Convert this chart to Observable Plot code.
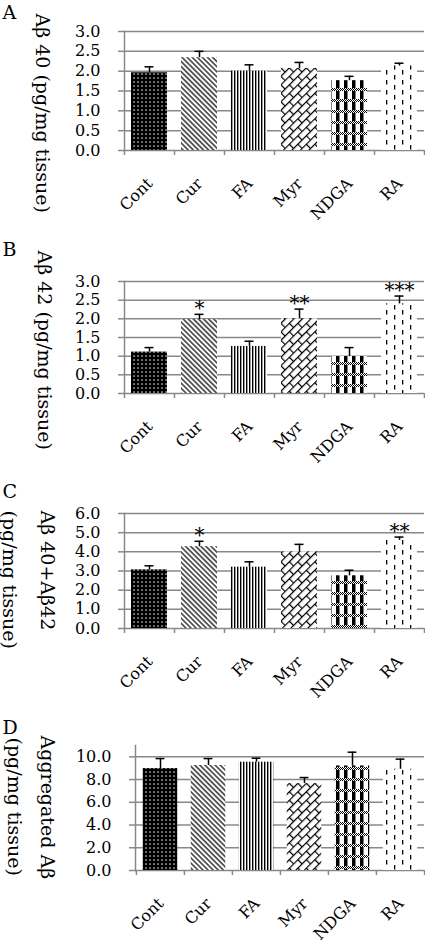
<!DOCTYPE html>
<html><head><meta charset="utf-8">
<script src="https://cdn.jsdelivr.net/npm/d3@7"></script>
<script src="https://cdn.jsdelivr.net/npm/@observablehq/plot@0.6"></script>
<style>
html,body{margin:0;padding:0;background:#fff;}
#chart svg{display:block;overflow:visible;}
</style></head><body><div id="chart"></div>
<script>
// ---- data ----
const categories = ["Cont", "Cur", "FA", "Myr", "NDGA", "RA"];

const ab40Mean = [1.96, 2.34, 2.00, 2.07, 1.76, 2.13];
const ab40Err  = [0.15, 0.16, 0.16, 0.15, 0.11, 0.07];

const ab42Mean = [1.11, 1.98, 1.26, 2.00, 0.99, 2.40];
const ab42Err  = [0.12, 0.14, 0.14, 0.26, 0.24, 0.21];
const ab42Stars = ["", "*", "", "**", "", "***"];

const sumMean = [3.06, 4.27, 3.20, 4.00, 2.75, 4.60];
const sumErr  = [0.21, 0.28, 0.28, 0.39, 0.29, 0.17];
const sumStars = ["", "*", "", "", "", "**"];

const aggMean = [8.97, 9.24, 9.53, 7.65, 9.20, 8.91];
const aggErr  = [0.88, 0.61, 0.35, 0.53, 1.21, 0.89];

const ticksA = [0, 0.5, 1.0, 1.5, 2.0, 2.5, 3.0];
const ticksB = [0, 0.5, 1.0, 1.5, 2.0, 2.5, 3.0];
const ticksC = [0, 1, 2, 3, 4, 5, 6];
const ticksD = [0, 2, 4, 6, 8, 10];

const titleA = ["Aβ 40 (pg/mg tissue)"];
const titleB = ["Aβ 42 (pg/mg tissue)"];
const titleC = ["Aβ 40+Aβ42", "(pg/mg tissue)"];
const titleD = ["Aggregated Aβ", "(pg/mg tissue)"];

// ---- style ----
const GRID = "#888888";
const FONT = "DejaVu Serif";
const fmt = d3.format(".1f");

function patternDefs(s) {
  return () => {
    const defs = d3.create("svg:defs");
    const pat = (id, w, h, tr) => {
      const p = defs.append("pattern").attr("id", id + s)
        .attr("patternUnits", "userSpaceOnUse").attr("width", w).attr("height", h);
      if (tr) p.attr("patternTransform", tr);
      return p;
    };
    const rect = (p, x, y, w, h, f) => p.append("rect").attr("x", x).attr("y", y)
      .attr("width", w).attr("height", h).attr("fill", f);
    // Cont: black with white dots
    let p = pat("Cont", 4, 4);
    rect(p, 0, 0, 4, 4, "#000"); rect(p, 1.4, 1.4, 1.3, 1.3, "#fff");
    // Cur: diagonal lines
    p = pat("Cur", 3.6, 3.6, "rotate(-45)");
    rect(p, 0, 0, 3.6, 3.6, "#fff"); rect(p, 1.2, 0, 1.2, 3.6, "#000");
    // FA: vertical lines
    p = pat("FA", 3, 3);
    rect(p, 0, 0, 3, 3, "#fff"); rect(p, 0, 0, 1.4, 3, "#000");
    // Myr: diagonal brick
    p = pat("Myr", 12, 12, "rotate(-45)");
    rect(p, 0, 0, 12, 12, "#fff");
    rect(p, 0, 0, 12, 1.2, "#000"); rect(p, 0, 6, 12, 1.2, "#000");
    rect(p, 0, 0, 1.2, 6, "#000"); rect(p, 6, 6, 1.2, 6, "#000");
    // NDGA: black columns with checker bands
    p = pat("NDGA", 8, 11);
    rect(p, 0, 0, 8, 11, "#fff"); rect(p, 0, 0, 3.5, 11, "#000");
    for (let y = 0; y < 3; y++) for (let x = 0; x < 8; x++)
      rect(p, x, y, 1, 1, (x + y) % 2 === 0 ? "#000" : "#fff");
    // RA: dashed vertical lines
    p = pat("RA", 16, 10);
    rect(p, 0, 0, 16, 10, "#fff");
    rect(p, 2, 0, 1.3, 4.5, "#000"); rect(p, 10, 5, 1.3, 4.5, "#000");
    return defs.node();
  };
}

function panel(cfg) {
  const {key, letter, titleLines, titlePos, values, errors, stars, yMax, yTicks,
         height, mt, mb, ml, letterBase} = cfg;
  const width = 425, mr = 1;
  const step = (width - ml - mr) / categories.length;
  const rows = categories.map((c, i) => ({
    cat: c, value: values[i], se: errors[i], star: stars ? stars[i] : ""
  }));
  const inset = step * 0.14;
  const capInset = (step - 9) / 2;
  const marks = [
    patternDefs(key),
    Plot.gridY({ticks: yTicks, stroke: GRID, strokeOpacity: 1, strokeWidth: 1.5}),
    Plot.barY(rows, {x: "cat", y: "value", fill: "cat", insetLeft: inset, insetRight: inset}),
    Plot.ruleX(rows, {x: "cat", y1: "value", y2: d => d.value + d.se, stroke: "#000", strokeWidth: 1.5}),
    Plot.tickY(rows, {x: "cat", y: d => d.value + d.se, stroke: "#000", strokeWidth: 1.5,
      insetLeft: capInset, insetRight: capInset}),
    Plot.text(rows.filter(d => d.star), {x: "cat", y: d => d.value + d.se, text: "star",
      lineAnchor: "bottom", fontSize: 20, dy: 1, fontFamily: FONT}),
    Plot.frame({anchor: "left", stroke: GRID, strokeWidth: 1.5}),
    // y ticks (marks only) and tick labels
    Plot.axisY({ticks: yTicks, tickSize: 6, tickFormat: () => "", stroke: GRID, strokeWidth: 1.5, label: null}),
    Plot.text(yTicks, {y: d => d, text: d => fmt(d), frameAnchor: "left", textAnchor: "end",
      lineAnchor: "middle", dx: -24, fontSize: 16, fontFamily: FONT, fill: "#000"}),
    // x boundary ticks
    Plot.axisX({tickSize: 5, tickFormat: () => "", dx: -step / 2, stroke: GRID, strokeWidth: 1.5, label: null}),
    Plot.axisX({ticks: [categories[categories.length - 1]], tickSize: 5, tickFormat: () => "",
      dx: step / 2, stroke: GRID, strokeWidth: 1.5, label: null}),
    // category labels rotated
    Plot.text(categories, {x: d => d, text: d => d, frameAnchor: "bottom", rotate: -45,
      textAnchor: "end", lineAnchor: "bottom", dx: 4, dy: 34, fontSize: 16, fontFamily: FONT, fill: "#000"}),
    Plot.text([letter], {frameAnchor: "top-left", textAnchor: "start", lineAnchor: "bottom",
      dx: 2 - ml, dy: letterBase - mt, fontSize: 19, fontFamily: FONT})
  ];
  titleLines.forEach((t, i) => {
    marks.push(Plot.text([t], {frameAnchor: "top-left", rotate: 90, textAnchor: "start",
      lineAnchor: "middle", dx: titlePos[i][0] - ml, dy: titlePos[i][1] - mt, fontSize: 19, fontFamily: FONT}));
  });
  return Plot.plot({
    width, height, marginTop: mt, marginBottom: mb, marginLeft: ml, marginRight: mr,
    style: {fontFamily: FONT, fontSize: "16px", color: "#000", background: "transparent", overflow: "visible"},
    x: {domain: categories, padding: 0, axis: null},
    y: {domain: [0, yMax], axis: null},
    color: {type: "ordinal", domain: categories, range: categories.map(c => `url(#${c}${key})`)},
    marks
  });
}

const chart = document.getElementById("chart");
chart.append(panel({key: "A", letter: "A", titleLines: titleA, titlePos: [[42, 13]],
  values: ab40Mean, errors: ab40Err, yMax: 3, yTicks: ticksA,
  height: 230, mt: 31, mb: 80, ml: 124, letterBase: 18}));
chart.append(panel({key: "B", letter: "B", titleLines: titleB, titlePos: [[44, 20]],
  values: ab42Mean, errors: ab42Err, stars: ab42Stars, yMax: 3, yTicks: ticksB,
  height: 230, mt: 51, mb: 67, ml: 124, letterBase: 25}));
chart.append(panel({key: "C", letter: "C", titleLines: titleC, titlePos: [[47, 50], [9, 50]],
  values: sumMean, errors: sumErr, stars: sumStars, yMax: 6, yTicks: ticksC,
  height: 230, mt: 53, mb: 62, ml: 124, letterBase: 37}));
chart.append(panel({key: "D", letter: "D", titleLines: titleD, titlePos: [[47, 45], [14, 47]],
  values: aggMean, errors: aggErr, yMax: 11, yTicks: ticksD,
  height: 254, mt: 55, mb: 74, ml: 135, letterBase: 43}));
</script></body></html>
